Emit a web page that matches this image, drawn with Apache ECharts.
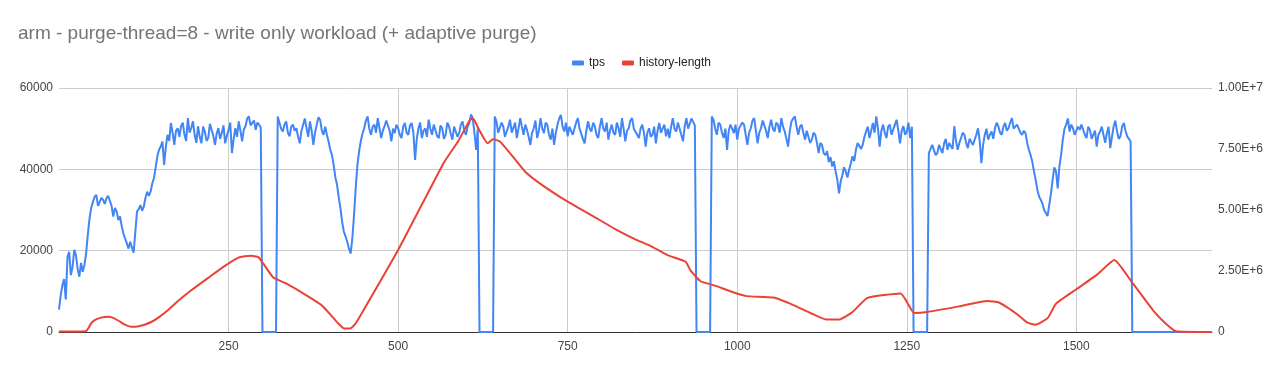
<!DOCTYPE html>
<html><head><meta charset="utf-8">
<script src="https://cdn.jsdelivr.net/npm/echarts@6/dist/echarts.min.js"></script>
<style>html,body{margin:0;padding:0;background:#fff}#c{width:1283px;height:371px}</style>
</head><body><div id="c"></div>
<script>
const titleText = 'arm - purge-thread=8 - write only workload (+ adaptive purge)';
const xTicks = [250, 500, 750, 1000, 1250, 1500];
const tpsStart = 0, tpsStep = 2.5;
const tps = [
5500,9000,11500,13000,8000,18500,19700,14000,16000,20200,18900,15500,13600,17000,14800,16500,19300,24000,27900,30500,
32000,33200,33700,31000,30800,33000,32500,31500,32900,33500,33700,31000,28400,30500,29600,27500,28400,26000,24200,23000,
21800,20500,22200,20800,19500,19200,29600,30200,31200,29800,30800,33000,34500,33500,34500,36500,37800,40500,43200,44800,
45600,46800,41100,45500,48500,47000,51400,49000,46000,49500,50100,48000,50600,51500,48500,47000,52600,49000,50100,51800,
48500,46500,50600,48000,46400,50500,49300,47000,47700,51200,49700,48300,46000,48800,50100,47500,48900,50800,46400,48200,
49700,51500,44000,47500,50100,48000,51800,49500,46900,49800,50600,52500,53000,50800,50600,52000,49700,51500,51000,50300,
0,0,0,0,0,0,0,0,0,53000,52600,50000,49300,51000,51800,49000,48100,50500,51000,49500,
50100,48000,46400,49500,51000,52500,50100,48000,51800,49500,46000,49000,51000,52800,52200,49500,48500,50500,48500,46800,
44800,43500,41100,38000,36200,33000,30400,27000,24700,23500,22200,20500,19300,23000,28800,35500,41100,44500,46900,48800,
50100,52000,53000,50000,48500,50500,51000,49000,52600,50200,47700,49500,50600,52000,51800,49500,46900,50000,48900,51000,
50100,48500,47700,50500,51400,49000,48500,50800,51400,49000,42300,47500,50100,51500,47700,49500,50100,48000,52200,50000,
48500,51000,50600,48200,47700,50800,50100,47500,48500,51500,50600,48800,47300,50500,50100,48000,48900,51000,51800,49500,
48500,50500,51400,53500,52600,49000,44800,50000,0,0,0,0,0,0,0,0,0,53000,51800,49000,
49300,51500,50600,48000,47700,50500,52200,49000,49300,51500,47700,50000,52600,50500,48500,51000,49700,48000,46000,49000,
50100,52000,47700,49500,52600,50000,48900,51500,51000,48500,47300,50000,46000,49000,51000,52500,53400,50500,49300,51500,
48100,50500,50600,48500,48900,51500,52600,50000,50100,47500,46400,49500,51800,50000,49300,51500,50600,48500,47700,50500,
52600,50000,49300,51500,47300,49500,51000,49000,48500,51500,50100,48000,52600,50000,46900,49500,50100,52000,52600,50000,
50100,48500,47700,50000,51000,49000,45600,49000,50100,48000,48500,50500,46400,49500,51400,49000,49300,51000,48100,50000,
47700,50500,52600,50000,49300,51500,51800,48500,46900,50500,52600,50000,50100,52500,52200,50800,0,0,0,0,
0,0,0,0,0,53000,52200,50000,48500,51500,51000,49000,47700,50000,44800,49500,51000,50000,48900,51000,
47300,50000,49700,51500,51000,48500,46000,49000,50100,52000,52600,49500,46400,49000,50100,52000,51800,49500,47700,50500,
52200,50000,49300,51500,51000,49000,52600,50500,49300,47500,45600,49500,51800,52500,53000,50500,48500,50500,51000,49000,
47300,49500,49300,46500,47300,49000,48500,46500,44000,46500,46000,44000,43500,44500,41800,43000,40700,42000,39500,37500,
34100,37000,38600,40500,39500,38000,39900,41500,43200,42000,44800,46500,46900,45000,46000,48000,49300,50500,47700,49500,
51400,49000,53000,50000,45600,49500,51000,49000,47700,50500,51000,48500,48900,51000,52200,49500,46400,49500,50600,48500,
49300,51500,47700,50500,0,0,0,0,0,0,0,0,0,44000,44400,46000,45600,43500,44000,46000,
45600,44000,46400,47500,44800,46500,46900,45000,50600,47000,44800,46500,47700,49000,48500,46500,45200,47500,47700,46000,
46400,48500,50100,47000,41500,46000,48500,50000,47300,48500,49300,47500,50100,51500,50600,49000,48500,50500,51400,49500,
50100,51500,52600,50000,49700,51000,50600,49000,48500,49500,48900,46500,44800,43500,41900,39500,37400,35000,33300,32500,
31600,30000,29600,28500,31200,34000,37400,40500,39500,35300,40700,43500,47300,50000,51000,52500,49300,51000,50100,48500,
48100,50500,49700,51000,50600,48500,47700,50500,49700,47500,47300,49500,45600,48500,49300,50500,48500,46500,48900,50500,
45200,48000,50600,52000,49300,47500,48100,50500,51400,49500,48100,47500,46900,0,0,0,0,0,0,0,
0,0,0,0,0,0,0,0,0,0,0,0,0,0,0,0,0,0,0,0,
0,0,0,0,0,0,0,0,0,0,0,0,0,0,0,0,0,0,0,0,0
];
const histX = [0,40,43,47,52,62,72,80,89,97,106,116,126,136,146,160,175,195,220,244,
264,274,283,294,301,316,335,360,387,399,412,421,429,436,446,500,567,589,606,611,
618,632,640,650,665,687,712,750,786,820,849,872,897,924,931,946,965,995,1014,1054,
1083,1108,1131,1150,1170,1192,1241,1261,1280,1327,1369,1386,1403,1414,1428,1440,1458,1470,1500,1531,
1556,1580,1615,1632,1647,1700];
const histY = [20000,30000,140000,340000,480000,590000,630000,580000,440000,300000,
220000,230000,300000,410000,580000,880000,1260000,1710000,2220000,2700000,
3040000,3100000,3120000,3070000,2810000,2230000,1990000,1580000,1100000,750000,
340000,140000,140000,300000,750000,3360000,6920000,7840000,8700000,8740000,
8360000,7740000,7900000,7810000,7330000,6580000,6030000,5340000,4770000,4220000,
3810000,3530000,3150000,2880000,2530000,2080000,1920000,1620000,1470000,1410000,
1100000,780000,510000,510000,820000,1400000,1580000,780000,820000,1050000,
1270000,1210000,920000,700000,380000,300000,580000,1160000,1750000,2360000,
2950000,2120000,820000,340000,30000,0];

const tpsData = tps.map((v, i) => [tpsStart + i * tpsStep, v]);
const histData = histX.map((x, i) => [x, histY[i]]);
const FONT = 'Arial, "Liberation Sans", sans-serif';

const chart = echarts.init(document.getElementById('c'), null, {renderer: 'canvas'});
chart.setOption({
  animation: false,
  backgroundColor: '#fff',
  title: {text: titleText, left: 13, top: 19,
    textStyle: {fontFamily: FONT, fontSize: 19, fontWeight: 'normal', color: '#757575'}},
  legend: {top: 52, left: 'center', itemWidth: 12, itemHeight: 5, itemGap: 17, icon: 'roundRect',
    textStyle: {fontFamily: FONT, fontSize: 12, color: '#222'},
    data: ['tps', 'history-length']},
  grid: {left: 59, right: 71, top: 88, bottom: 39},
  xAxis: {type: 'value', min: 0, max: 1700, interval: 250,
    axisLine: {show: true, lineStyle: {color: '#333', width: 1}},
    axisTick: {show: false},
    axisLabel: {color: '#444', fontSize: 12, margin: 9, fontFamily: FONT,
      showMinLabel: false, showMaxLabel: false,
      formatter: v => xTicks.includes(v) ? String(v) : ''},
    splitLine: {show: true, showMinLine: false, showMaxLine: false, lineStyle: {color: '#ccc'}}},
  yAxis: [
    {type: 'value', min: 0, max: 60000, interval: 20000,
      axisLine: {show: false}, axisTick: {show: false},
      axisLabel: {color: '#444', fontSize: 12, margin: 6, fontFamily: FONT, formatter: v => String(v)},
      splitLine: {show: true, lineStyle: {color: '#ccc'}}},
    {type: 'value', min: 0, max: 10000000, interval: 2500000, position: 'right',
      axisLine: {show: false}, axisTick: {show: false},
      axisLabel: {color: '#444', fontSize: 12, margin: 6, fontFamily: FONT,
        formatter: v => v === 0 ? '0' : v.toExponential(2).toUpperCase()},
      splitLine: {show: false}}
  ],
  series: [
    {name: 'tps', type: 'line', yAxisIndex: 0, data: tpsData, showSymbol: false, symbol: 'none',
      lineStyle: {color: '#4285F4', width: 2}, itemStyle: {color: '#4285F4'}},
    {name: 'history-length', type: 'line', yAxisIndex: 1, data: histData, showSymbol: false, symbol: 'none',
      smooth: 0.15,
      lineStyle: {color: '#EA4335', width: 2}, itemStyle: {color: '#EA4335'}}
  ]
});
</script></body></html>
